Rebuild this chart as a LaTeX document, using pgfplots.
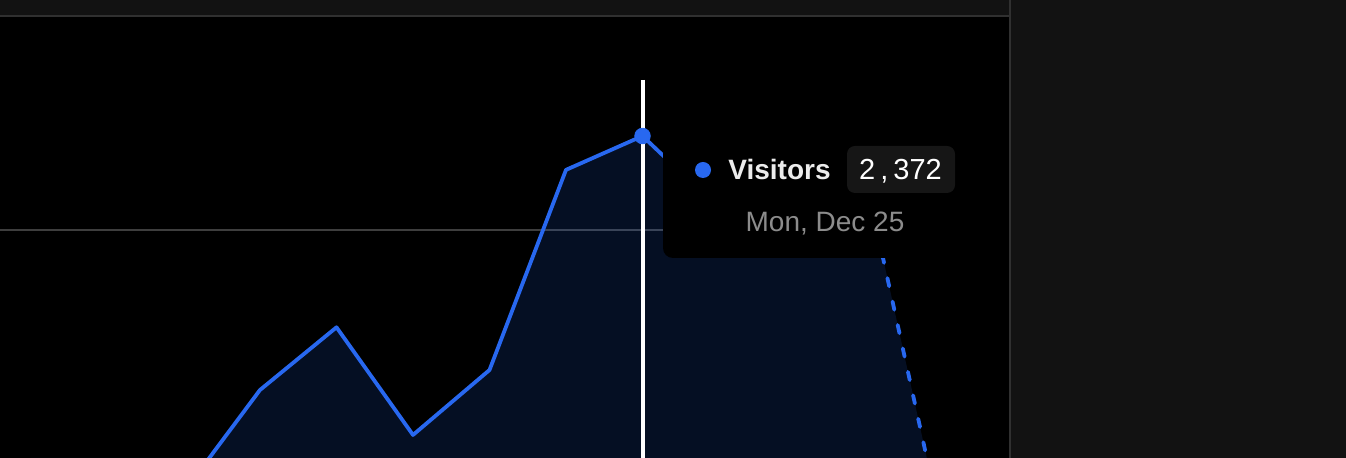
\documentclass[border=0pt]{standalone}
\usepackage{pgfplots}
\pgfplotsset{compat=1.18}
\usepackage{fontspec}
\setmainfont{Liberation Sans}
\definecolor{panel}{RGB}{18,18,18}
\definecolor{border}{RGB}{48,48,48}
\definecolor{vblue}{RGB}{40,104,240}
\definecolor{gridc}{RGB}{62,62,62}
\definecolor{pill}{RGB}{22,22,22}
\definecolor{vgrey}{RGB}{140,140,140}
\definecolor{vwhite}{RGB}{236,236,236}
\begin{document}
\begin{tikzpicture}
\useasboundingbox (0pt,0pt) rectangle (673pt,-229pt);
\begin{scope}[x=0.5pt,y=-0.5pt]
\fill[panel] (0,0) rectangle (1346,458);
\fill[black] (0,17) rectangle (1009,458);
\draw[border, line width=1pt] (0,16.5) -- (1009,16.5);
\end{scope}
\begin{axis}[
  at={(0pt,-229pt)}, anchor=south west,
  scale only axis, width=504.5pt, height=220.5pt,
  xmin=-2.3987, xmax=10.7908, ymin=1097.8, ymax=2843.0,
  axis line style={draw=none},
  xtick=\empty, ytick={2000}, yticklabels={},
  major tick length=0pt,
  ymajorgrids, grid style={gridc, line width=0.6pt},
  clip=true,
]
\addplot[draw=none, fill=vblue, fill opacity=0.15] coordinates {
(-2,700) (-1,850) (0,961) (1,1367) (2,1615) (3,1189) (4,1446) (5,2238) (6,2372) (7,2084) (8,2120) (9,2088) (10,706)
} \closedcycle;
\addplot[vblue, line width=1.9pt, line join=round] coordinates {
(-2,700) (-1,850) (0,961) (1,1367) (2,1615) (3,1189) (4,1446) (5,2238) (6,2372) (7,2084) (8,2120) (9,2088)
};
\addplot[vblue, line width=1.9pt, line cap=round, dash pattern=on 4.2pt off 7.8pt] coordinates {
(9,2088) (10,706)
};
\addplot[white, line width=2pt] coordinates {(6,2593.7) (6,1097.8)};
\addplot[only marks, mark=*, mark size=3.9pt, color=vblue] coordinates {(6,2372)};
\end{axis}
\begin{scope}[x=0.5pt,y=-0.5pt]
\fill[black, rounded corners=5pt] (663,130) rectangle (1040,258);
\fill[panel] (1010,0) rectangle (1346,458);
\draw[border, line width=1pt] (1009.5,0) -- (1009.5,458);
\fill[vblue] (703,170) circle (4pt);
\node[anchor=base west, inner sep=0pt, text=vwhite, font=\fontsize{14pt}{16pt}\selectfont\bfseries] at (728,179.5) {Visitors};
\fill[pill, rounded corners=4pt] (847,146) rectangle (955,193);
\node[anchor=base, inner sep=0pt, text=white, font=\fontsize{14.5pt}{16pt}\selectfont] at (900.5,180) {2\hspace{2.5pt},\hspace{2.5pt}372};
\node[anchor=base, inner sep=0pt, text=vgrey, font=\fontsize{14pt}{16pt}\selectfont] at (825,232) {Mon, Dec 25};
\end{scope}
\end{tikzpicture}
\end{document}
